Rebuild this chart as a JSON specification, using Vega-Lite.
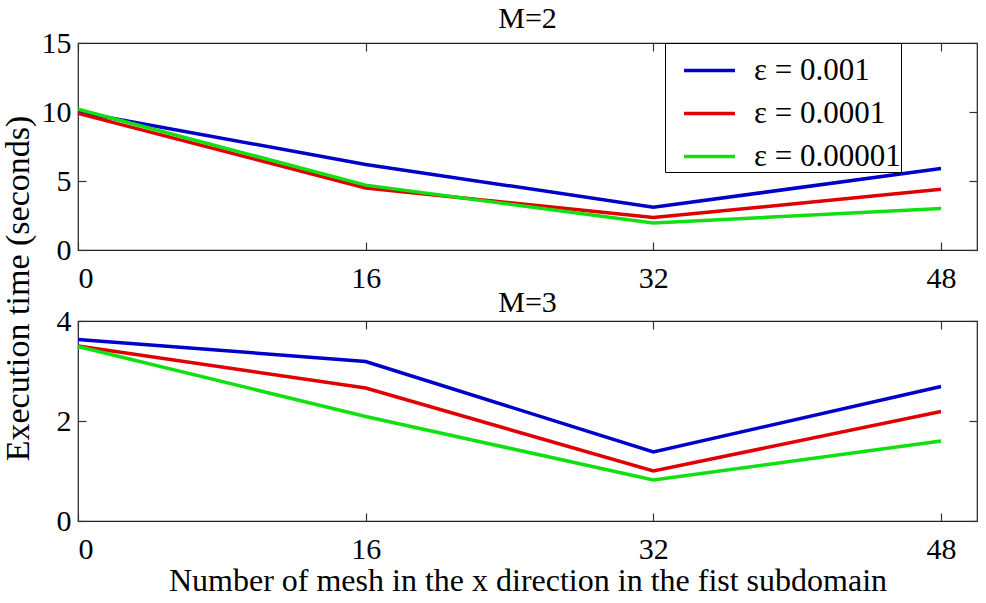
{
  "$schema": "https://vega.github.io/schema/vega-lite/v6.json",
  "autosize": {"type": "pad"},
  "padding": {"top": 3, "left": 0, "right": 0, "bottom": 0},
  "background": "white",
  "config": {
    "font": "Liberation Serif",
    "view": {"stroke": "#222", "strokeWidth": 1.2},
    "axis": {
      "labelFont": "Liberation Serif",
      "labelFontSize": 30,
      "labelColor": "black",
      "titleFont": "Liberation Serif",
      "titleColor": "black",
      "titleFontWeight": "normal",
      "grid": false,
      "domain": false,
      "tickColor": "#333",
      "tickWidth": 1.2,
      "tickSize": -8,
      "labelPadding": 15
    },
    "axisX": {"labelPadding": 21},
    "title": {"font": "Liberation Serif", "fontSize": 30, "fontWeight": "normal", "color": "black", "anchor": "middle", "baseline": "alphabetic", "frame": "group"},
    "legend": {"labelFont": "Liberation Serif"}
  },
  "datasets": {
    "times": [
      {"M": 2, "x": 0, "eps": "ε = 0.001", "t": 10.0},
      {"M": 2, "x": 16, "eps": "ε = 0.001", "t": 6.2},
      {"M": 2, "x": 32, "eps": "ε = 0.001", "t": 3.1},
      {"M": 2, "x": 48, "eps": "ε = 0.001", "t": 5.9},
      {"M": 2, "x": 0, "eps": "ε = 0.0001", "t": 9.9},
      {"M": 2, "x": 16, "eps": "ε = 0.0001", "t": 4.5},
      {"M": 2, "x": 32, "eps": "ε = 0.0001", "t": 2.35},
      {"M": 2, "x": 48, "eps": "ε = 0.0001", "t": 4.4},
      {"M": 2, "x": 0, "eps": "ε = 0.00001", "t": 10.2},
      {"M": 2, "x": 16, "eps": "ε = 0.00001", "t": 4.7},
      {"M": 2, "x": 32, "eps": "ε = 0.00001", "t": 1.95},
      {"M": 2, "x": 48, "eps": "ε = 0.00001", "t": 3.0},
      {"M": 3, "x": 0, "eps": "ε = 0.001", "t": 3.63},
      {"M": 3, "x": 16, "eps": "ε = 0.001", "t": 3.19},
      {"M": 3, "x": 32, "eps": "ε = 0.001", "t": 1.38},
      {"M": 3, "x": 48, "eps": "ε = 0.001", "t": 2.69},
      {"M": 3, "x": 0, "eps": "ε = 0.0001", "t": 3.5},
      {"M": 3, "x": 16, "eps": "ε = 0.0001", "t": 2.66},
      {"M": 3, "x": 32, "eps": "ε = 0.0001", "t": 1.0},
      {"M": 3, "x": 48, "eps": "ε = 0.0001", "t": 2.19},
      {"M": 3, "x": 0, "eps": "ε = 0.00001", "t": 3.49},
      {"M": 3, "x": 16, "eps": "ε = 0.00001", "t": 2.09},
      {"M": 3, "x": 32, "eps": "ε = 0.00001", "t": 0.82},
      {"M": 3, "x": 48, "eps": "ε = 0.00001", "t": 1.6}
    ]
  },
  "bounds": "flush",
  "spacing": 71,
  "resolve": {"scale": {"y": "independent"}, "legend": {"color": "independent"}},
  "vconcat": [
    {
      "title": {"text": "M=2", "offset": -6},
      "width": 899,
      "height": 207,
      "data": {"name": "times"},
      "transform": [{"filter": "datum.M == 2"}],
      "layer": [
        {
          "mark": {"type": "line", "strokeWidth": 3.5},
          "encoding": {
            "x": {"field": "x", "type": "quantitative", "scale": {"domain": [0, 50], "nice": false},
                  "axis": {"values": [0, 16, 32, 48], "title": null}},
            "y": {"field": "t", "type": "quantitative", "scale": {"domain": [0, 15], "nice": false},
                  "axis": {"values": [0, 5, 10, 15], "title": "Execution time (seconds)", "titleFontSize": 34,
                           "titleAngle": 270, "titleX": -50, "titleY": 245, "titleAlign": "center", "titleBaseline": "alphabetic"}},
            "color": {"field": "eps", "type": "nominal",
                      "scale": {"domain": ["ε = 0.001", "ε = 0.0001", "ε = 0.00001"], "range": ["#0000c8", "#e00000", "#10e010"]},
                      "legend": {"title": null, "orient": "none", "legendX": 587, "legendY": 0,
                                 "fillColor": "white", "strokeColor": "black", "padding": 0,
                                 "symbolType": "stroke", "symbolSize": 2601, "symbolStrokeWidth": 3.5,
                                 "symbolOffset": 17,
                                 "labelExpr": "datum.label + '\u2003'",
                                 "labelFontSize": 31, "labelOffset": 17, "labelLimit": 400, "rowPadding": -19,
                                 "labelColor": "black"}}
          }
        },
        {
          "mark": {"type": "line", "opacity": 0},
          "encoding": {
            "x": {"field": "x", "type": "quantitative", "scale": {"domain": [0, 50], "nice": false},
                  "axis": {"orient": "top", "values": [0, 16, 32, 48], "labels": false, "title": null,
                           "labelPadding": 0, "minExtent": 0, "maxExtent": 0}},
            "y": {"field": "t", "type": "quantitative", "scale": {"domain": [0, 15], "nice": false},
                  "axis": {"orient": "right", "values": [0, 5, 10, 15], "labels": false, "title": null,
                           "labelPadding": 0, "minExtent": 0, "maxExtent": 0}},
            "detail": {"field": "eps"}
          }
        }
      ],
      "resolve": {"axis": {"x": "independent", "y": "independent"}}
    },
    {
      "title": {"text": "M=3", "offset": -12},
      "width": 899,
      "height": 200,
      "data": {"name": "times"},
      "transform": [{"filter": "datum.M == 3"}],
      "layer": [
        {
          "mark": {"type": "line", "strokeWidth": 3.5},
          "encoding": {
            "x": {"field": "x", "type": "quantitative", "scale": {"domain": [0, 50], "nice": false},
                  "axis": {"values": [0, 16, 32, 48], "title": "Number of mesh in the x direction in the fist subdomain",
                           "titleFontSize": 32, "titlePadding": 1}},
            "y": {"field": "t", "type": "quantitative", "scale": {"domain": [0, 4], "nice": false},
                  "axis": {"values": [0, 2, 4], "title": null}},
            "color": {"field": "eps", "type": "nominal",
                      "scale": {"domain": ["ε = 0.001", "ε = 0.0001", "ε = 0.00001"], "range": ["#0000c8", "#e00000", "#10e010"]},
                      "legend": null}
          }
        },
        {
          "mark": {"type": "line", "opacity": 0},
          "encoding": {
            "x": {"field": "x", "type": "quantitative", "scale": {"domain": [0, 50], "nice": false},
                  "axis": {"orient": "top", "values": [0, 16, 32, 48], "labels": false, "title": null,
                           "labelPadding": 0, "minExtent": 0, "maxExtent": 0}},
            "y": {"field": "t", "type": "quantitative", "scale": {"domain": [0, 4], "nice": false},
                  "axis": {"orient": "right", "values": [0, 2, 4], "labels": false, "title": null,
                           "labelPadding": 0, "minExtent": 0, "maxExtent": 0}},
            "detail": {"field": "eps"}
          }
        }
      ],
      "resolve": {"axis": {"x": "independent", "y": "independent"}}
    }
  ]
}
